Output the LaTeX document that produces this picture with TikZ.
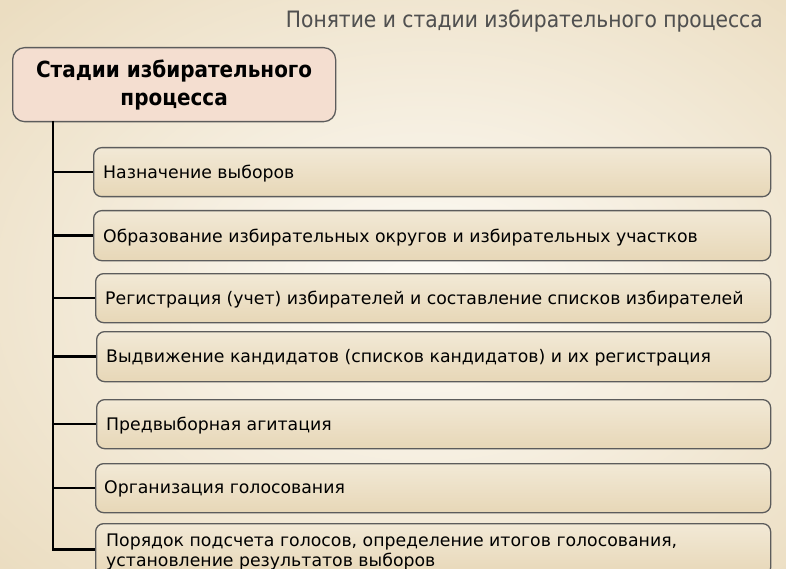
\documentclass[tikz,border=0pt]{standalone}
\usepackage{fontspec}
\setmainfont{DejaVu Sans}
\newfontfamily\condfont{DejaVu Sans Condensed}
\usetikzlibrary{calc}
\definecolor{bgin}{HTML}{FDFBF6}
\definecolor{bgout}{HTML}{EBDDC1}
\definecolor{headfill}{HTML}{F4DED0}
\definecolor{itemtop}{HTML}{F2E9D6}
\definecolor{itembot}{HTML}{E7D7B7}
\definecolor{frame}{HTML}{5C5C5C}
\definecolor{titlegray}{HTML}{505050}
\tikzset{
  itembox/.style={draw=frame, line width=1.3pt, rounded corners=8pt,
    top color=itemtop, bottom color=itembot, inner sep=0pt},
  headbox/.style={draw=frame, line width=1.3pt, rounded corners=12pt,
    fill=headfill, inner sep=0pt},
  itemtext/.style={anchor=west, inner sep=0pt, font=\fontsize{17.3}{20}\selectfont, text=black, align=left},
  titletext/.style={anchor=base east, inner sep=0pt, text=titlegray, font=\condfont\fontsize{22.5}{26}\selectfont},
  conn/.style={line width=2.4pt, black},
}
\begin{document}
\begin{tikzpicture}[x=1pt,y=-1pt]
\useasboundingbox (0,0) rectangle (786,569);
\shade[inner color=bgin, outer color=bgout] (-150,-120) rectangle (1000,700);
% title
\node[titletext] (title) at (763,28) {Понятие и стадии избирательного процесса};
\begin{scope}[yscale=-1, shift={(0,-56)}]
\node[titletext, opacity=0.16] (titlerefl) at (763,28) {Понятие и стадии избирательного процесса};
\end{scope}
% header
\node[headbox, minimum width=323pt, minimum height=74pt, anchor=north west] (head) at (12,47) {};
\node[align=center, font=\condfont\bfseries\fontsize{22.2}{28}\selectfont, inner sep=0pt] (headtxt) at (head.center) {Стадии избирательного\\процесса};
% items
\node[itembox, minimum width=677pt, minimum height=49pt, anchor=north west] (b1) at (93,147) {};
\node[itembox, minimum width=677pt, minimum height=50pt, anchor=north west] (b2) at (93,210) {};
\node[itembox, minimum width=675pt, minimum height=49pt, anchor=north west] (b3) at (95,273) {};
\node[itembox, minimum width=674pt, minimum height=50pt, anchor=north west] (b4) at (96,331) {};
\node[itembox, minimum width=674pt, minimum height=49pt, anchor=north west] (b5) at (96,399) {};
\node[itembox, minimum width=675pt, minimum height=49pt, anchor=north west] (b6) at (95,463) {};
\node[itembox, minimum width=675pt, minimum height=52pt, anchor=north west] (b7) at (95,523) {};
\node[itemtext] (t1) at (103,174) {Назначение выборов};
\node[itemtext] (t2) at (103,238) {Образование избирательных округов и избирательных участков};
\node[itemtext] (t3) at (105,300) {Регистрация (учет) избирателей и составление списков избирателей};
\node[itemtext] (t4) at (106,358) {Выдвижение кандидатов (списков кандидатов) и их регистрация};
\node[itemtext] (t5) at (106,426) {Предвыборная агитация};
\node[itemtext] (t6) at (104,489) {Организация голосования};
\node[itemtext, anchor=north west] (t7) at (106,534) {Порядок подсчета голосов, определение итогов голосования,\\установление результатов выборов};
% connectors
\coordinate (trunk) at (53,121);
\draw[conn] (trunk) |- (b7.west);
\foreach \b in {b1,b2,b3,b4,b5,b6}{
  \draw[conn] (trunk |- \b.west) -- (\b.west);
}
\end{tikzpicture}
\end{document}
